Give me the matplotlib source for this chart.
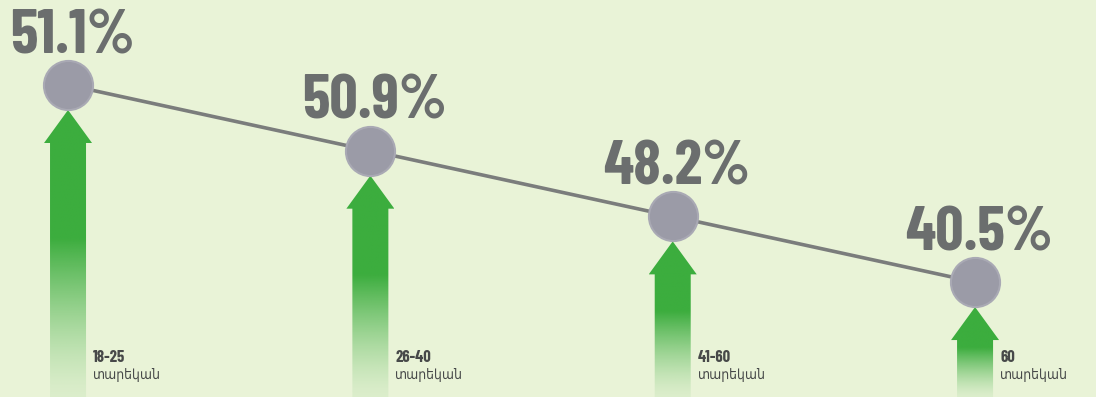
import numpy as np
import matplotlib
matplotlib.use("Agg")
import matplotlib.pyplot as plt
from matplotlib.patches import Polygon
from matplotlib.colors import to_rgb

age_groups = ["18-25", "26-40", "41-60", "60"]
age_word = "տարեկան"
shares = [51.1, 50.9, 48.2, 40.5]
share_labels = ["51.1%", "50.9%", "48.2%", "40.5%"]

BG = "#e9f3d7"
GREEN = "#3cad3e"
GREY_TXT = "#6b6e6e"
LINE = "#7b7d7c"
DOT = "#9b9ba7"
NUM_FONT = ["Barlow Condensed", "DejaVu Sans"]

# infographic stacks the points evenly by rank, not on a linear value scale
order = np.argsort(shares)
level = np.empty(len(shares))
level[order] = np.arange(len(shares))
x = np.arange(len(shares))

fig = plt.figure(figsize=(10.96, 3.97), dpi=100)
fig.patch.set_facecolor(BG)
ax = fig.add_axes([0, 0, 1, 1])
ax.set_facecolor(BG)
XL, XR, YB, YT = -0.225, 3.40, -1.75, 4.294
ax.axis("off")

px_x = (XR - XL) / 1096
px_y = (YT - YB) / 397

# arrows: solid green near the head, fading into the background at the bottom
for xi, lv in zip(x, level):
    tip = lv - 25 * px_y
    head = tip - 33 * px_y
    sw = 18 * px_x
    hw = 24 * px_x
    pts = [(xi, tip), (xi + hw, head), (xi + sw, head), (xi + sw, YB),
           (xi - sw, YB), (xi - sw, head), (xi - hw, head)]
    poly = Polygon(pts, closed=True, facecolor="none", edgecolor="none")
    ax.add_patch(poly)
    n = 200
    t = np.linspace(0, 1, n)  # 0 at bottom, 1 at tip
    solid = 0.55
    a = np.clip(t / solid, 0, 1) ** 1.4
    a = 0.08 + 0.92 * a
    rgba = np.zeros((n, 1, 4))
    rgba[..., :3] = to_rgb(GREEN)
    rgba[:, 0, 3] = a
    im = ax.imshow(rgba, origin="lower", aspect="auto", interpolation="bilinear",
                   extent=(xi - hw, xi + hw, YB, tip), zorder=1)
    im.set_clip_path(poly)

ax.set_xlim(XL, XR)
ax.set_ylim(YB, YT)

# line and dots
ax.plot(x, level, color=LINE, lw=2.6, zorder=2)
ax.scatter(x, level, s=1250, color=DOT, edgecolor="#a9a9b4", linewidth=1.5, zorder=3)

for xi, lv, lab in zip(x, level, share_labels):
    ax.annotate(lab, (xi, lv), xytext=(3, 23), textcoords="offset points",
                ha="center", va="baseline", fontsize=45, fontweight="bold",
                color=GREY_TXT, family=NUM_FONT)

for xi, grp in zip(x, age_groups):
    ax.text(xi + 25 * px_x, 0.100, grp, transform=ax.get_xaxis_transform(),
            ha="left", va="center", fontsize=12, fontweight="bold", color="#474949",
            family=NUM_FONT)
    ax.text(xi + 25 * px_x, 0.055, age_word, transform=ax.get_xaxis_transform(),
            ha="left", va="center", fontsize=10, color="#474949",
            family=["DejaVu Sans"], stretch="condensed")

fig.savefig("out.png", dpi=100, facecolor=BG)
